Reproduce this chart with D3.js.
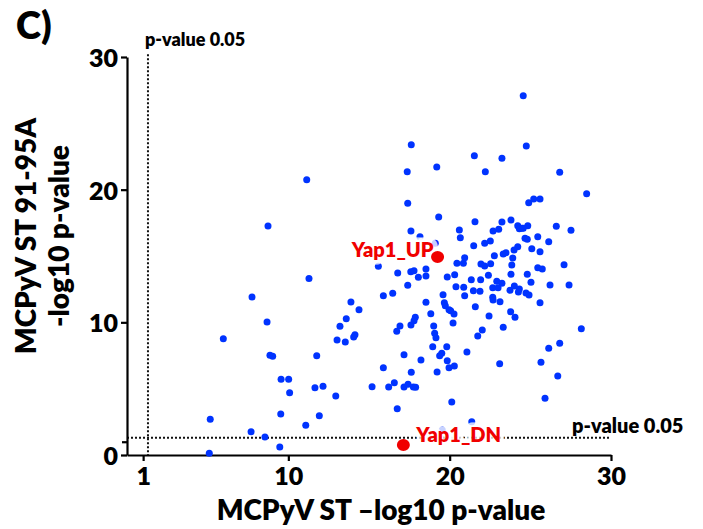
<!DOCTYPE html>
<html>
<head>
<meta charset="utf-8">
<script src="https://cdn.jsdelivr.net/npm/d3@7"></script>
<style>
  html, body { margin: 0; padding: 0; background: #fff; }
  svg { display: block; font-family: Lato, "Open Sans", sans-serif; font-weight: 800; }
</style>
</head>
<body>
<svg id="chart" width="703" height="529"></svg>
<script>
// ---- data (x: MCPyV ST -log10 p, y: MCPyV ST 91-95A -log10 p) ----
const pointsX = [
  11.14, 8.74, 11.28, 7.75, 8.68, 5.97, 8.86, 9.03, 11.76, 13.02, 13.53, 13.20, 13.59,
  9.55, 10.02, 10.08, 11.65, 12.15, 12.94, 5.16, 9.53, 11.92, 11.08, 7.69, 8.55, 9.47, 5.10,
  24.56, 17.62, 24.75, 21.53, 23.24, 17.37, 19.20, 22.21, 26.82, 28.49, 17.40, 24.90, 25.21, 25.60,
  19.32, 21.57, 23.24, 23.80, 24.22, 24.84, 26.61, 24.47,
  17.60, 18.16, 19.11, 15.58, 20.60, 20.66, 20.93, 20.45, 20.85, 16.78, 17.59, 17.79, 18.53, 18.06,
  18.53, 19.85, 20.31,
  24.32, 24.56, 27.52, 22.69, 23.04, 21.49, 22.17, 22.52, 24.67, 24.81, 25.46, 26.14, 24.22, 23.99,
  25.09, 25.60, 22.77, 23.32, 23.49, 23.91, 21.94, 22.17, 22.54, 23.85, 25.46, 25.74, 27.09, 22.40,
  23.80, 24.81, 21.34, 21.92,
  17.40, 15.89, 16.47, 13.88, 14.38, 14.05, 14.13, 18.53, 19.59, 20.39, 20.87, 20.93, 19.67, 19.73,
  19.96, 20.06, 20.27, 18.83, 17.87, 17.79, 17.60, 16.92, 16.72, 20.21, 19.01, 19.07, 19.15, 18.95,
  19.82, 19.51, 19.38, 19.85, 19.96, 20.29, 21.07, 17.17, 18.22, 15.89, 17.62, 19.22, 15.19, 16.22,
  16.57, 17.17, 17.42, 17.75, 17.89, 16.75, 20.13,
  22.92, 23.24, 25.04, 26.22, 27.40, 21.47, 21.88, 22.67, 23.00, 23.74, 24.01, 24.32, 24.26, 24.73,
  24.92, 22.67, 22.69, 23.12, 25.60, 21.59, 22.44, 23.78, 24.05, 23.32, 22.02, 21.74, 28.16, 26.82,
  26.14, 25.66, 23.10, 26.70, 25.91, 21.37, 19.54
];
const pointsY = [
  20.75, 17.26, 13.31, 11.91, 10.02, 8.77, 7.51, 7.44, 7.48, 8.67, 8.52, 9.70, 10.27,
  5.71, 5.71, 4.70, 5.07, 5.18, 4.45, 2.69, 3.09, 2.96, 2.24, 1.76, 1.36, 0.60, 0.13,
  27.08, 23.39, 23.29, 22.56, 22.36, 21.35, 21.71, 21.35, 21.31, 19.70, 18.97, 19.02, 19.30, 19.30,
  17.94, 17.59, 17.56, 17.71, 17.28, 17.28, 17.24, 17.09,
  16.88, 16.45, 15.96, 14.22, 16.96, 16.38, 14.87, 14.45, 14.45, 13.72, 13.82, 13.89, 14.02, 13.39,
  13.49, 13.42, 13.59,
  17.06, 17.09, 16.94, 16.88, 17.01, 15.78, 15.96, 16.13, 16.33, 16.26, 16.45, 16.08, 15.70, 15.45,
  15.55, 15.32, 15.02, 15.15, 15.25, 14.85, 14.40, 14.25, 14.42, 14.32, 14.12, 14.02, 14.34, 13.55,
  13.62, 13.62, 13.21, 13.21,
  12.79, 12.01, 12.19, 11.53, 10.95, 8.89, 9.07, 11.51, 12.08, 12.69, 12.64, 12.01, 11.48, 11.25,
  10.95, 10.88, 10.63, 10.65, 10.38, 10.12, 9.80, 9.72, 9.32, 9.95, 9.72, 9.17, 8.84, 8.16,
  8.16, 7.67, 7.48, 7.11, 6.58, 6.71, 7.76, 7.56, 7.16, 6.58, 6.23, 6.26, 5.15, 5.13,
  5.45, 5.13, 5.33, 5.13, 5.10, 3.49, 3.99,
  13.09, 12.94, 13.02, 12.81, 12.81, 12.38, 12.34, 12.61, 12.61, 12.41, 12.74, 12.51, 12.29, 12.21,
  12.06, 11.89, 11.68, 11.56, 11.48, 11.18, 10.48, 10.80, 10.38, 9.63, 9.42, 8.97, 9.52, 8.42,
  8.04, 6.99, 6.88, 5.95, 4.27, 2.51, 1.88
];
const highlightNames = ["Yap1_UP", "Yap1_DN"];
const highlightX = [19.25, 17.13];
const highlightY = [14.92, 0.75];
const xTicks = [1, 10, 20, 30];
const yTicks = [0, 10, 20, 30];
const yMinorTicks = [1];
const pThreshold = 1.3; // -log10(0.05)
const thresholdLabel = "p-value 0.05";
const xTitle = "MCPyV ST \u2013log10 p-value";
const yTitleLines = ["MCPyV ST 91-95A", "-log10 p-value"];
const panelLabel = "C)";

// ---- drawing ----
const svg = d3.select("#chart");
const x = d3.scaleLinear().domain([0, 30]).range([127, 611]);
const y = d3.scaleLinear().domain([0, 30]).range([455, 57]);

// threshold dotted lines
svg.append("line")
  .attr("x1", x(pThreshold)).attr("x2", x(pThreshold))
  .attr("y1", y(30.2)).attr("y2", y(0))
  .attr("stroke", "#111").attr("stroke-width", 2).attr("stroke-dasharray", "2,2");
svg.append("line")
  .attr("x1", x(0)).attr("x2", x(30))
  .attr("y1", y(pThreshold)).attr("y2", y(pThreshold))
  .attr("stroke", "#111").attr("stroke-width", 2).attr("stroke-dasharray", "2,2");

// axes
const xAxis = svg.append("g").attr("transform", `translate(0,${y(0)})`)
  .call(d3.axisBottom(x).tickValues(xTicks).tickSize(6).tickSizeOuter(0).tickPadding(6).tickFormat(d3.format("d")));
const yAxis = svg.append("g").attr("transform", `translate(${x(0)},0)`)
  .call(d3.axisLeft(y).tickValues(yTicks).tickSize(6).tickSizeOuter(0).tickPadding(3).tickFormat(d3.format("d")));
svg.append("g").attr("transform", `translate(${x(0)},0)`)
  .call(d3.axisLeft(y).tickValues(yMinorTicks).tickSize(5).tickFormat(""))
  .call(g => g.select(".domain").remove());
svg.selectAll(".domain").attr("stroke", "#000").attr("stroke-width", 2.2);
svg.selectAll(".tick line").attr("stroke", "#000").attr("stroke-width", 2.2);
svg.selectAll(".tick text")
  .attr("font-family", "Lato, sans-serif").attr("font-weight", 800)
  .attr("font-size", 25).attr("fill", "#000");
yAxis.selectAll(".tick text").attr("dy", "0.38em");

// points
svg.append("g").selectAll("circle").data(pointsX.map((v, i) => [v, pointsY[i]]))
  .join("circle")
  .attr("cx", d => x(d[0])).attr("cy", d => y(d[1]))
  .attr("r", 3.5).attr("fill", "#0033ff");

// highlight labels (with translucent white halo)
const labelAnchor = ["end", "start"];
const labelDx = [-4, 13];
const labelDy = [0, -3];
svg.append("g").selectAll("text").data(highlightNames)
  .join("text")
  .attr("x", (d, i) => x(highlightX[i]) + labelDx[i])
  .attr("y", (d, i) => y(highlightY[i]) + labelDy[i])
  .attr("text-anchor", (d, i) => labelAnchor[i])
  .attr("font-size", 20).attr("font-weight", 800)
  .attr("fill", "#f00000")
  .attr("stroke", "#fff").attr("stroke-opacity", 0.8).attr("stroke-width", 9)
  .attr("stroke-linejoin", "round")
  .attr("paint-order", "stroke")
  .text(d => d);

svg.append("g").selectAll("ellipse").data(highlightNames)
  .join("ellipse")
  .attr("cx", (d, i) => x(highlightX[i])).attr("cy", (d, i) => y(highlightY[i]))
  .attr("rx", 6.5).attr("ry", 6).attr("fill", "#f00000");

// threshold labels
svg.append("text").attr("x", x(pThreshold) - 3).attr("y", 46)
  .attr("font-size", 18).attr("fill", "#000").text(thresholdLabel);
svg.append("text").attr("x", 572).attr("y", y(pThreshold) - 5)
  .attr("font-size", 20).attr("fill", "#000").text(thresholdLabel);

// titles
svg.append("text").attr("x", 381).attr("y", 520).attr("text-anchor", "middle")
  .attr("font-size", 28).attr("fill", "#000").text(xTitle);
const yt = svg.append("text").attr("transform", "translate(0,236) rotate(-90)")
  .attr("text-anchor", "middle").attr("font-size", 28).attr("fill", "#000");
yt.append("tspan").attr("x", 0).attr("y", 36).text(yTitleLines[0]);
yt.append("tspan").attr("x", 0).attr("y", 69).text(yTitleLines[1]);

svg.append("text").attr("x", 16).attr("y", 39).attr("font-size", 38).attr("fill", "#000").text(panelLabel);
</script>
</body>
</html>
